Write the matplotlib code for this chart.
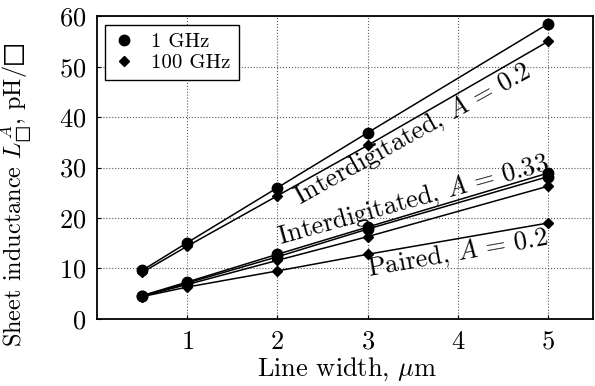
import matplotlib
matplotlib.use("Agg")
import matplotlib.pyplot as plt
from matplotlib.lines import Line2D

plt.rcParams['font.family'] = ['cmr10', 'DejaVu Serif']
plt.rcParams['mathtext.fontset'] = 'cm'
plt.rcParams['axes.formatter.use_mathtext'] = True

# line width in micrometres
width = [0.5, 1, 2, 3, 5]

# sheet inductance, pH/sq
inter02_1ghz = [9.6, 15.1, 26.0, 36.9, 58.5]
inter02_100ghz = [9.2, 14.4, 24.4, 34.4, 55.0]
inter033_1ghz = [4.6, 7.3, 12.8, 18.2, 28.9]
inter033_100ghz = [4.5, 6.8, 11.6, 16.3, 26.3]
paired_1ghz = [4.5, 7.1, 12.3, 17.8, 28.2]
paired_100ghz = [4.4, 6.3, 9.5, 12.8, 19.0]

labels = [r'Interdigitated, $A\,=\,0.2$', r'Interdigitated, $A\,=\,0.33$',
          r'Paired, $A\,=\,0.2$']
label_pos = [(3.5, 36.7), (3.5, 23.5), (4.0, 13.0)]
label_rot = [29, 15.5, 10]

fig = plt.figure(figsize=(5.95, 3.86), dpi=100)
ax = fig.add_axes([0.163, 0.174, 0.834, 0.784])

for ys in [inter02_1ghz, inter033_1ghz, paired_1ghz]:
    ax.plot(width, ys, color='black', lw=1.1, marker='o', ms=7.5)
for ys in [inter02_100ghz, inter033_100ghz, paired_100ghz]:
    ax.plot(width, ys, color='black', lw=1.1, marker='D', ms=5.5)

for txt, (x, y), r in zip(labels, label_pos, label_rot):
    ax.text(x, y, txt, fontsize=19, rotation=r, rotation_mode='anchor',
            ha='center', va='center')

ax.set_xlim(0, 5.5)
ax.set_ylim(0, 60)
ax.set_xticks([1, 2, 3, 4, 5])
ax.set_yticks([0, 10, 20, 30, 40, 50, 60])
ax.tick_params(direction='in', length=3, labelsize=19, pad=8)
ax.grid(True, color='0.35', linestyle=':', linewidth=0.8)
for s in ax.spines.values():
    s.set_linewidth(1.3)

ax.set_xlabel(r'Line width, $\mu$m', fontsize=19)
ax.set_ylabel(r'Sheet inductance $L_{□}^{A}$, pH/$□$', fontsize=17.5)
ax.xaxis.set_label_coords(0.505, -0.12)
ax.yaxis.set_label_coords(-0.127, 0.41)

handles = [Line2D([], [], color='black', marker='o', ls='none', ms=7.5),
           Line2D([], [], color='black', marker='D', ls='none', ms=5.5)]
leg = ax.legend(handles, ['1 GHz', '100 GHz'], loc='upper left', fontsize=15,
                fancybox=False, edgecolor='black', framealpha=1,
                borderaxespad=0.4, handlelength=1.0, handletextpad=0.8,
                labelspacing=0.1)
leg.get_frame().set_linewidth(1.0)

fig.savefig('out.png', dpi=100)
